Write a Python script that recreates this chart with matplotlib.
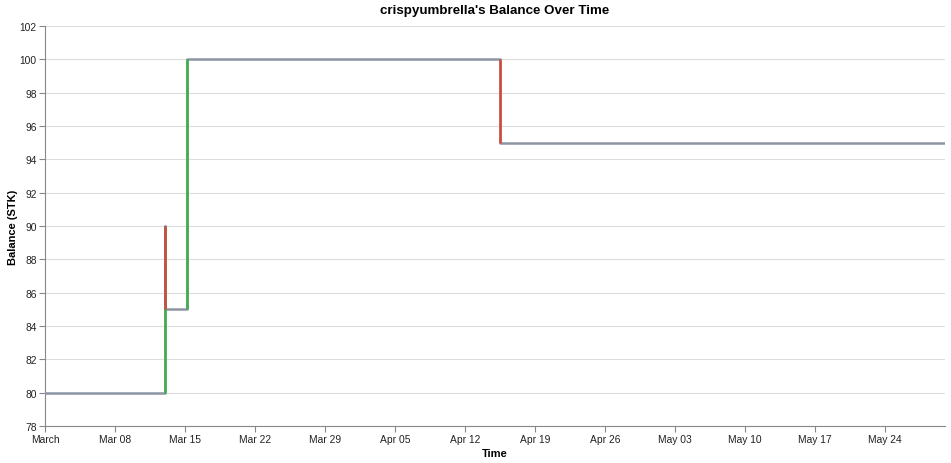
import matplotlib
matplotlib.use("Agg")
import matplotlib.pyplot as plt
import matplotlib.dates as mdates
from datetime import datetime, timedelta

# balance change events (time, balance after the change)
event_times = [
    datetime(2020, 3, 1, 0, 0),
    datetime(2020, 3, 13, 0, 0),
    datetime(2020, 3, 13, 0, 0),
    datetime(2020, 3, 15, 5, 0),
    datetime(2020, 4, 15, 12, 0),
    datetime(2020, 5, 30, 0, 0),
]
balances = [80, 90, 85, 100, 95, 95]

title = "crispyumbrella's Balance Over Time"
x_title = "Time"
y_title = "Balance (STK)"
y_ticks = list(range(78, 104, 2))

GRAY = "#8c95a3"
GREEN = "#3fae4a"
RED = "#d24a3e"
AXIS = "#888888"

W, H = 951, 464
fig = plt.figure(figsize=(W / 100, H / 100), dpi=100)
ax = fig.add_axes([45 / W, 37 / H, 900 / W, 400 / H])

# gray step line
ax.step(event_times, balances, where="post", color=GRAY, lw=1.8, zorder=3)

# colored vertical rules for each change
for i in range(1, len(balances)):
    prev, cur = balances[i - 1], balances[i]
    if cur == prev:
        continue
    color = GREEN if cur > prev else RED
    ax.plot([event_times[i], event_times[i]], [prev, cur], color=color,
            lw=1.8, zorder=4, solid_capstyle="butt")

ax.set_xlim(datetime(2020, 3, 1), datetime(2020, 5, 30))
ax.set_ylim(78, 102)

# weekly ticks like d3
x_ticks = [datetime(2020, 3, 1) + timedelta(days=7 * k) for k in range(13)]
x_labels = [d.strftime("%B") if d.day == 1 else d.strftime("%b %d") for d in x_ticks]
ax.set_xticks([mdates.date2num(d) for d in x_ticks])
ax.set_xticklabels(x_labels)
ax.set_yticks(y_ticks)

ax.grid(axis="y", color="#dddddd", lw=0.8, zorder=0)
ax.set_axisbelow(True)
for s in ["top", "right"]:
    ax.spines[s].set_visible(False)
for s in ["left", "bottom"]:
    ax.spines[s].set_color(AXIS)
    ax.spines[s].set_linewidth(0.8)

font = "Liberation Sans"
ax.tick_params(axis="both", colors=AXIS, length=4, width=0.8, labelsize=7.4,
               labelcolor="#222222", pad=2)
for lab in ax.get_xticklabels() + ax.get_yticklabels():
    lab.set_fontfamily(font)

ax.set_xlabel(x_title, fontfamily=font, fontweight="bold", fontsize=8, labelpad=3)
ax.set_ylabel(y_title, fontfamily=font, fontweight="bold", fontsize=8, labelpad=1)
fig.text(495 / W, 1 - 11 / H, title, ha="center", va="center",
         fontfamily=font, fontweight="bold", fontsize=9.6)

fig.savefig("out.png", dpi=100)
